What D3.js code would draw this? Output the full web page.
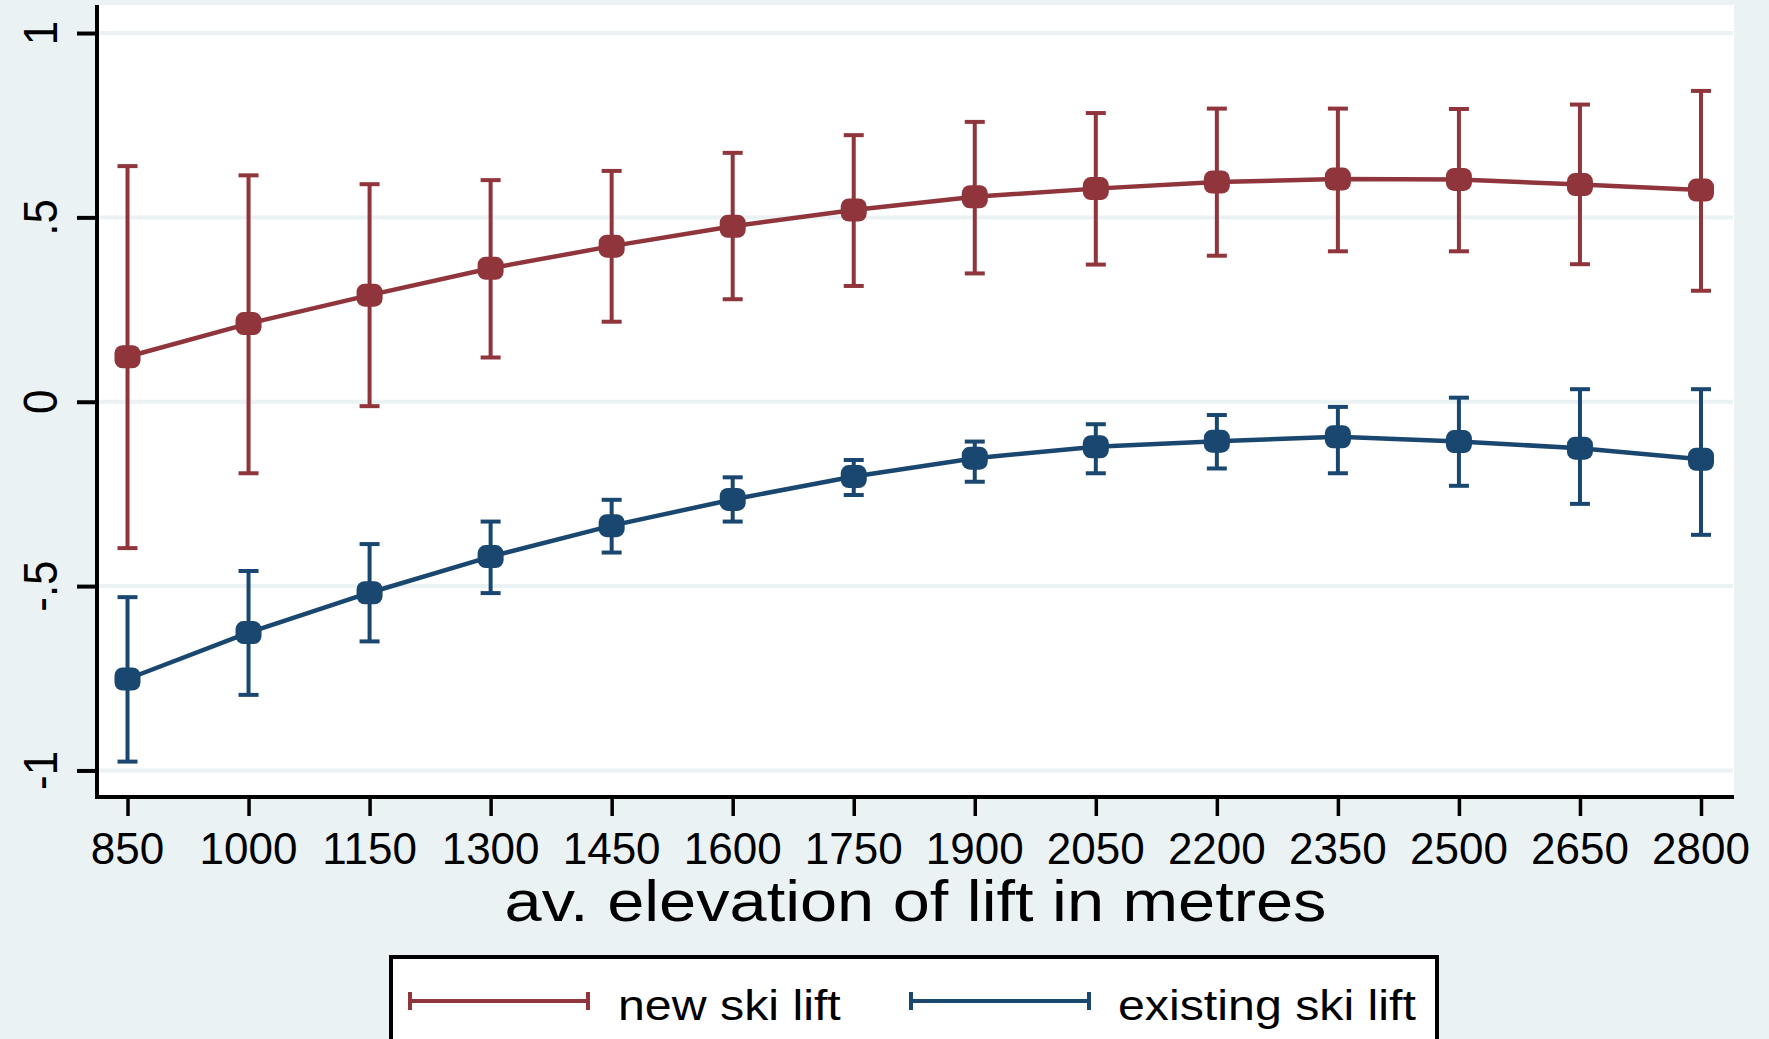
<!DOCTYPE html>
<html>
<head>
<meta charset="utf-8">
<script src="https://cdn.jsdelivr.net/npm/d3@7"></script>
<style>
  body { margin: 0; background: #eaf2f3; }
  svg { display: block; }
  text { font-family: "Liberation Sans", Arial, sans-serif; fill: #000; }
</style>
</head>
<body>
<svg id="chart" width="1769" height="1039"></svg>
<script>
const elevations = [850, 1000, 1150, 1300, 1450, 1600, 1750, 1900, 2050, 2200, 2350, 2500, 2650, 2800];

const newEst = [0.122, 0.212, 0.289, 0.362, 0.422, 0.476, 0.520, 0.556, 0.578, 0.596, 0.604, 0.603, 0.589, 0.574];
const newLo  = [-0.397, -0.194, -0.012, 0.120, 0.217, 0.278, 0.314, 0.348, 0.372, 0.396, 0.408, 0.408, 0.373, 0.301];
const newHi  = [0.639, 0.614, 0.590, 0.601, 0.626, 0.675, 0.723, 0.759, 0.783, 0.795, 0.795, 0.794, 0.806, 0.843];

const existEst = [-0.752, -0.626, -0.518, -0.420, -0.336, -0.265, -0.203, -0.153, -0.122, -0.107, -0.095, -0.108, -0.126, -0.156];
const existLo  = [-0.976, -0.795, -0.650, -0.519, -0.409, -0.325, -0.253, -0.217, -0.194, -0.181, -0.194, -0.228, -0.277, -0.361];
const existHi  = [-0.530, -0.459, -0.386, -0.325, -0.266, -0.205, -0.158, -0.108, -0.061, -0.036, -0.014, 0.011, 0.034, 0.034];

const yTicks = [-1, -0.5, 0, 0.5, 1];
const yTickLabels = ["-1", "-.5", "0", ".5", "1"];
const seriesNames = ["new ski lift", "existing ski lift"];

const red = "#90353b";
const blue = "#1a476f";
const bg = "#eaf2f3";
const stretch = 1.15; // title and legend text are drawn a bit wide

const svg = d3.select("#chart");

// plot region
const plotL = 97, plotR = 1734, plotT = 5, plotB = 797;

const x = d3.scaleLinear()
  .domain([812.2, 2840.9])
  .range([plotL, plotR]);

const y = d3.scaleLinear()
  .domain([-1.072, 1.076])
  .range([plotB, plotT]);

svg.append("rect")
  .attr("width", 1769).attr("height", 1039)
  .attr("fill", bg);

svg.append("rect")
  .attr("x", plotL).attr("y", plotT)
  .attr("width", plotR - plotL).attr("height", plotB - plotT)
  .attr("fill", "#fff");

// gridlines
svg.append("g")
  .selectAll("line")
  .data(yTicks)
  .join("line")
  .attr("x1", plotL + 2).attr("x2", plotR - 1)
  .attr("y1", d => y(d)).attr("y2", d => y(d))
  .attr("stroke", bg)
  .attr("stroke-width", 4);

// y axis
const yAxis = svg.append("g")
  .attr("transform", `translate(${plotL},0)`)
  .call(d3.axisLeft(y).tickValues(yTicks).tickSize(20).tickFormat(""));
yAxis.select(".domain").remove();
yAxis.selectAll(".tick line").attr("stroke", "#000").attr("stroke-width", 4);

svg.append("g")
  .selectAll("text")
  .data(yTicks)
  .join("text")
  .attr("transform", (d) => `translate(57,${y(d)}) scale(1.1,1) rotate(-90)`)
  .attr("text-anchor", "middle")
  .style("font-size", "44px")
  .text((d, i) => yTickLabels[i]);

// x axis
const xAxis = svg.append("g")
  .attr("transform", `translate(0,${plotB})`)
  .call(d3.axisBottom(x).tickValues(elevations).tickSize(19).tickFormat(""));
xAxis.select(".domain").remove();
xAxis.selectAll(".tick line").attr("stroke", "#000").attr("stroke-width", 3.5);

svg.append("g")
  .selectAll("text")
  .data(elevations)
  .join("text")
  .attr("x", d => x(d))
  .attr("y", 864)
  .attr("text-anchor", "middle")
  .style("font-size", "44px")
  .text(d => d);

// axis lines
svg.append("line")
  .attr("x1", plotL).attr("x2", plotL)
  .attr("y1", plotT).attr("y2", plotB + 2)
  .attr("stroke", "#000").attr("stroke-width", 4);
svg.append("line")
  .attr("x1", plotL - 2).attr("x2", plotR)
  .attr("y1", plotB).attr("y2", plotB)
  .attr("stroke", "#000").attr("stroke-width", 4);

svg.append("text")
  .attr("transform", `translate(${(plotL + plotR) / 2},921) scale(${stretch},1)`)
  .attr("text-anchor", "middle")
  .style("font-size", "58px")
  .text("av. elevation of lift in metres");

// series
const series = [
  { name: seriesNames[0], color: red, est: newEst, lo: newLo, hi: newHi },
  { name: seriesNames[1], color: blue, est: existEst, lo: existLo, hi: existHi }
];

const line = d3.line()
  .x(d => x(d.elev))
  .y(d => y(d.est));

series.forEach(s => {
  const pts = elevations.map((e, i) => ({ elev: e, est: s.est[i], lo: s.lo[i], hi: s.hi[i] }));
  const g = svg.append("g");

  g.selectAll("line.bar")
    .data(pts)
    .join("line")
    .attr("class", "bar")
    .attr("x1", d => x(d.elev)).attr("x2", d => x(d.elev))
    .attr("y1", d => y(d.lo)).attr("y2", d => y(d.hi))
    .attr("stroke", s.color).attr("stroke-width", 4);

  g.selectAll("line.caplo")
    .data(pts)
    .join("line")
    .attr("class", "caplo")
    .attr("x1", d => x(d.elev) - 10).attr("x2", d => x(d.elev) + 10)
    .attr("y1", d => y(d.lo)).attr("y2", d => y(d.lo))
    .attr("stroke", s.color).attr("stroke-width", 4);

  g.selectAll("line.caphi")
    .data(pts)
    .join("line")
    .attr("class", "caphi")
    .attr("x1", d => x(d.elev) - 10).attr("x2", d => x(d.elev) + 10)
    .attr("y1", d => y(d.hi)).attr("y2", d => y(d.hi))
    .attr("stroke", s.color).attr("stroke-width", 4);

  g.append("path")
    .datum(pts)
    .attr("d", line)
    .attr("fill", "none")
    .attr("stroke", s.color)
    .attr("stroke-width", 4.5);

  g.selectAll("rect")
    .data(pts)
    .join("rect")
    .attr("x", d => x(d.elev) - 13)
    .attr("y", d => y(d.est) - 11.5)
    .attr("width", 26).attr("height", 23)
    .attr("rx", 8).attr("ry", 8)
    .attr("fill", s.color);
});

// legend
const legend = svg.append("g");
legend.append("rect")
  .attr("x", 391).attr("y", 957)
  .attr("width", 1046).attr("height", 100)
  .attr("fill", "#fff")
  .attr("stroke", "#000").attr("stroke-width", 4);

const legendItems = [
  { name: seriesNames[0], color: red, x0: 410, x1: 588, tx: 618 },
  { name: seriesNames[1], color: blue, x0: 911, x1: 1089, tx: 1118 }
];

legendItems.forEach(it => {
  legend.append("line")
    .attr("x1", it.x0).attr("x2", it.x1)
    .attr("y1", 1001).attr("y2", 1001)
    .attr("stroke", it.color).attr("stroke-width", 4);
  [it.x0, it.x1].forEach(cx => {
    legend.append("line")
      .attr("x1", cx).attr("x2", cx)
      .attr("y1", 992).attr("y2", 1010)
      .attr("stroke", it.color).attr("stroke-width", 4);
  });
  legend.append("text")
    .attr("transform", `translate(${it.tx},1020) scale(${stretch},1)`)
    .style("font-size", "42px")
    .text(it.name);
});
</script>
</body>
</html>
